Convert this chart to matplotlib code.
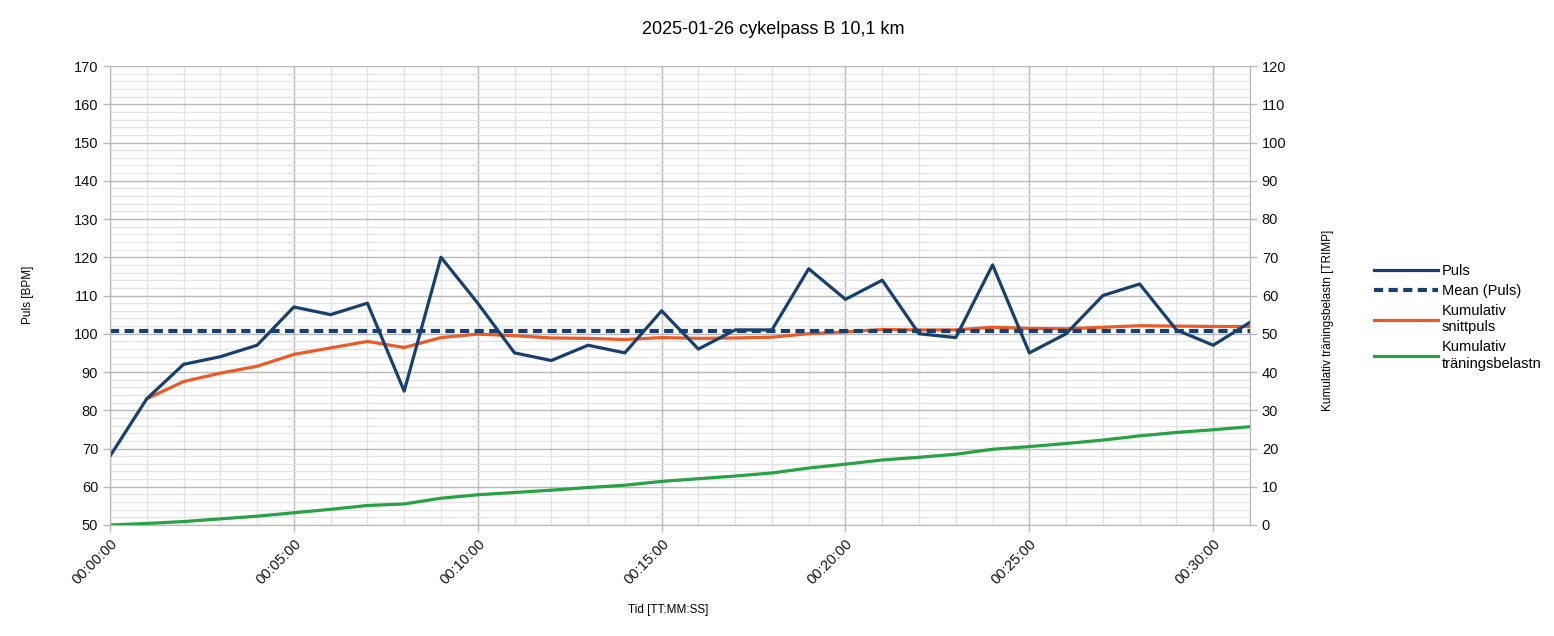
import matplotlib.pyplot as plt
from matplotlib.ticker import MultipleLocator, FuncFormatter
import matplotlib.lines as mlines

plt.rcParams['font.family'] = ['Liberation Sans', 'DejaVu Sans']

# minutes from start
minutes = list(range(32))
puls = [68, 83, 92, 94, 97, 107, 105, 108, 85, 120, 108, 95, 93, 97, 95, 106,
        96, 101, 101, 117, 109, 114, 100, 99, 118, 95, 100, 110, 113, 101, 97, 103]
mean_puls = 100.8
# cumulative mean pulse starts at minute 1
snitt_minutes = list(range(1, 32))
snittpuls = [83.0, 87.5, 89.7, 91.5, 94.6, 96.3, 98.0, 96.4, 99.0, 99.9, 99.5, 98.9,
             98.8, 98.5, 99.0, 98.8, 98.9, 99.1, 100.0, 100.5, 101.1, 101.0, 101.0,
             101.7, 101.4, 101.3, 101.7, 102.1, 102.0, 101.9, 101.9]
trimp = [0.0, 0.4, 0.9, 1.6, 2.3, 3.2, 4.1, 5.1, 5.5, 7.0, 7.9, 8.5, 9.1, 9.8, 10.4,
         11.4, 12.1, 12.8, 13.6, 14.9, 15.9, 17.0, 17.7, 18.5, 19.8, 20.5, 21.3,
         22.2, 23.3, 24.2, 24.9, 25.7]

c_puls = '#18406e'
c_snitt = '#ec5a26'
c_trimp = '#27a244'
grid_major = '#b8b8b8'
grid_minor = '#e3e3e3'

fig = plt.figure(figsize=(15.54, 6.36), dpi=100)
ax = fig.add_axes([110 / 1554, 1 - 525 / 636, 1140 / 1554, 459 / 636])
ax2 = ax.twinx()

ax.set_xlim(0, 31)
ax.set_ylim(50, 170)
ax2.set_ylim(0, 120)

ax.xaxis.set_major_locator(MultipleLocator(5))
ax.xaxis.set_minor_locator(MultipleLocator(1))
ax.yaxis.set_major_locator(MultipleLocator(10))
ax.yaxis.set_minor_locator(MultipleLocator(2))
ax2.yaxis.set_major_locator(MultipleLocator(10))
ax.xaxis.set_major_formatter(FuncFormatter(lambda v, p: f"00:{int(v):02d}:00"))

ax.grid(True, which='major', color=grid_major, linewidth=1.0)
ax.grid(True, which='minor', color=grid_minor, linewidth=0.9)
ax.set_axisbelow(True)

for a in (ax, ax2):
    for s in a.spines.values():
        s.set_color(grid_major)
    a.spines['top'].set_visible(False)
    a.tick_params(axis='both', which='major', colors=grid_major, labelcolor='#111111',
                  labelsize=10.5, length=5, width=1)
    a.tick_params(axis='both', which='minor', length=0)

for lbl in ax.get_xticklabels():
    lbl.set_rotation(45)
    lbl.set_ha('right')
    lbl.set_rotation_mode('anchor')

ax.plot(minutes, puls, color=c_puls, linewidth=2.3, zorder=5)
ax.axhline(mean_puls, color=c_puls, linewidth=3, linestyle=(0, (2.2, 1.3)), zorder=4)
ax.plot(snitt_minutes, snittpuls, color=c_snitt, linewidth=2.3, zorder=3)
ax2.plot(minutes, trimp, color=c_trimp, linewidth=2.3)

fig.text(773 / 1554, 1 - 29 / 636, '2025-01-26 cykelpass B 10,1 km', ha='center',
         va='center', fontsize=13)
fig.text(28 / 1554, 1 - 295 / 636, 'Puls [BPM]', rotation=90, ha='center', va='center',
         fontsize=8.5)
fig.text(1328 / 1554, 1 - 320 / 636, 'Kumulativ träningsbelastn [TRIMP]', rotation=90,
         ha='center', va='center', fontsize=8.5)
fig.text(668 / 1554, 1 - 610 / 636, 'Tid [TT:MM:SS]', ha='center', va='center',
         fontsize=8.5)

handles = [
    mlines.Line2D([], [], color=c_puls, linewidth=2.3),
    mlines.Line2D([], [], color=c_puls, linewidth=3, linestyle=(0, (2.2, 1.3))),
    mlines.Line2D([], [], color=c_snitt, linewidth=2.3),
    mlines.Line2D([], [], color=c_trimp, linewidth=2.3),
]
labels = ['Puls', 'Mean (Puls)', 'Kumulativ\nsnittpuls', 'Kumulativ\nträningsbelastn']
fig.legend(handles, labels, loc='upper left', bbox_to_anchor=(1368 / 1554, 1 - 258 / 636),
           frameon=False, fontsize=10.5, handlelength=4.4, handletextpad=0.25,
           labelspacing=0.42, borderaxespad=0)

fig.savefig('out.png', dpi=100)
